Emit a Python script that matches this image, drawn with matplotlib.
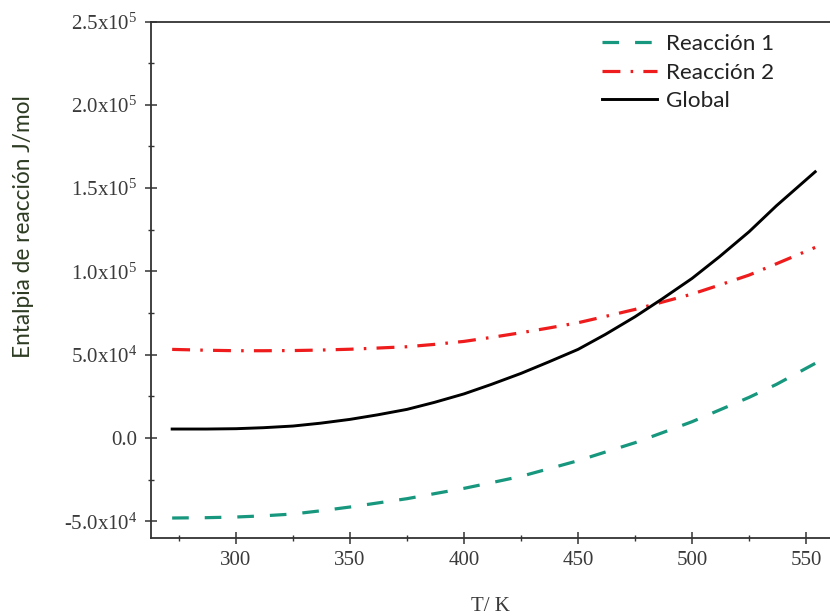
import matplotlib
matplotlib.use("Agg")
import matplotlib.pyplot as plt
from matplotlib.ticker import MultipleLocator, FuncFormatter

# ---- data ----
T = [272, 287, 300, 312, 325, 337, 350, 362, 375, 387, 400, 412,
     425, 437, 450, 462, 475, 487, 500, 512, 525, 537, 554]
reaccion1 = [-48000, -47800, -47400, -46700, -45600, -43700, -41400, -39000, -36400, -33400,
             -30200, -26800, -23000, -18500, -13600, -8400, -2800, 3200, 9800, 16800,
             24400, 32200, 44800]
reaccion2 = [53200, 52700, 52400, 52400, 52500, 52800, 53300, 54000, 54800, 56200,
             58000, 60400, 63200, 66000, 69200, 73000, 77200, 81600, 86400, 91800,
             97800, 104600, 114400]
global_ = [5400, 5400, 5600, 6200, 7200, 8900, 11200, 13900, 17200, 21400,
           26500, 32200, 38800, 45600, 53200, 62200, 72800, 83600, 95800, 108800,
           123800, 139400, 159800]
labels = ["Reacción 1", "Reacción 2", "Global"]

plt.rcParams['mathtext.default'] = 'regular'

fig = plt.figure(figsize=(8.3, 6.16), dpi=100)
top_frac = (616 - 21.5) / 616
bot_frac = (616 - 538) / 616
ax = fig.add_axes([0.1816, bot_frac, 1.0 - 0.1816, top_frac - bot_frac])

teal = '#17977d'
red = '#ee1c1c'
ax.plot(T, reaccion1, color=teal, lw=2.3, linestyle=(0, (5.2, 5.0)), label=labels[0])
ax.plot(T, reaccion2, color=red, lw=2.3, linestyle=(0, (5.6, 3.2, 0.8, 3.2)), label=labels[1])
ax.plot(T, global_, color='black', lw=2.1, label=labels[2])

ax.set_xlim(262.6, 560.5)
ax.set_ylim(-60000, 250000)

ax.xaxis.set_major_locator(MultipleLocator(50))
ax.xaxis.set_minor_locator(MultipleLocator(25))
ax.yaxis.set_major_locator(MultipleLocator(50000))
ax.yaxis.set_minor_locator(MultipleLocator(25000))

def yfmt(v, pos):
    if abs(v) < 1:
        return "0.0"
    e = 0
    m = v
    while abs(m) >= 10:
        m /= 10.0
        e += 1
    return "%.1fx10$^{%d}$" % (m, e)

ax.yaxis.set_major_formatter(FuncFormatter(yfmt))

for s in ['left', 'bottom', 'top']:
    ax.spines[s].set_color('#333333')
    ax.spines[s].set_linewidth(1.3)
ax.spines['right'].set_visible(False)

ax.tick_params(which='major', direction='inout', length=9, width=1.1, color='#333333',
               labelsize=15, labelcolor='#3a3a3a', pad=5)
ax.tick_params(which='minor', direction='inout', length=5, width=1.0, color='#333333')
ax.tick_params(top=False, right=False, which='both')
for lab in ax.get_xticklabels() + ax.get_yticklabels():
    lab.set_fontfamily('Liberation Serif')

ax.set_xlabel("T/ K", fontfamily='Liberation Serif', fontsize=15, color='#3a3a3a', labelpad=19)
fig.text(0.028, (616 - 227) / 616, "Entalpia de reacción J/mol", rotation=90,
         fontfamily='Lato', fontsize=16.3, color='#2d3b22', ha='center', va='center')

leg = ax.legend(loc='upper left', bbox_to_anchor=((602 - 150.7) / (830 - 150.7), (538 - 34) / (538 - 21.5)),
                frameon=False, prop={'family': 'Lato', 'size': 16.2}, handlelength=2.45,
                handletextpad=0.4, labelspacing=0.38, borderaxespad=0, borderpad=0)
for t in leg.get_texts():
    t.set_color('#222222')

fig.savefig("out.png", dpi=100)
